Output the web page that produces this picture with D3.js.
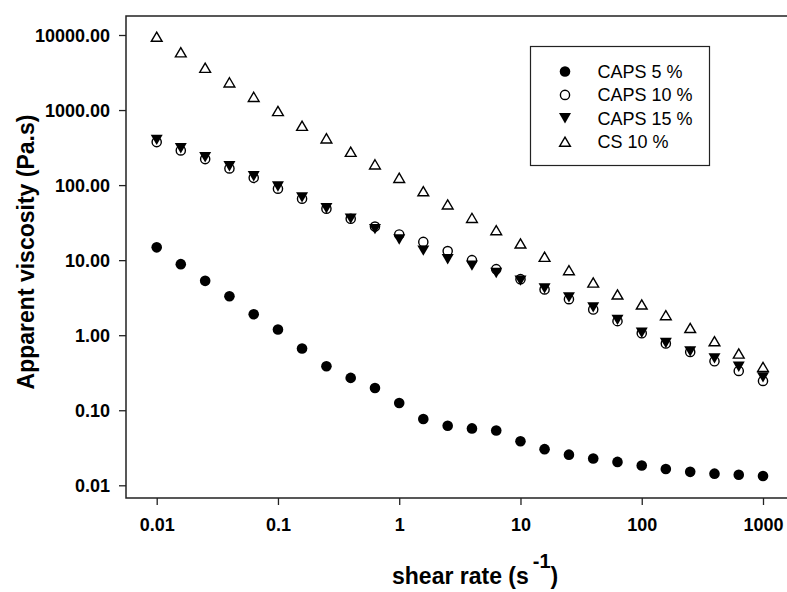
<!DOCTYPE html>
<html>
<head>
<meta charset="utf-8">
<script src="https://cdn.jsdelivr.net/npm/d3@7"></script>
<style>
	body { margin: 0; background: #fff; }
	svg { display: block; font-family: "Liberation Sans", Arial, sans-serif; }
	.tick text { font-size: 18px; font-weight: bold; fill: #000; }
	.tick line { stroke: #222; stroke-width: 1.3; }
</style>
</head>
<body>
<div id="chart"></div>
<script>
//data
var shearRate = [0.01, 0.0158, 0.0251, 0.0398, 0.0631, 0.1, 0.158, 0.251, 0.398, 0.631,
	1, 1.58, 2.51, 3.98, 6.31, 10, 15.8, 25.1, 39.8, 63.1, 100, 158, 251, 398, 631, 1000];
var caps5 = [14.8, 8.85, 5.3, 3.3, 1.9, 1.19, 0.665, 0.386, 0.27, 0.198, 0.125, 0.0766, 0.0622,
	0.0573, 0.0537, 0.0386, 0.0303, 0.0256, 0.0228, 0.0205, 0.0184, 0.0165, 0.0151, 0.0143, 0.0138, 0.0133];
var caps10 = [374, 290, 222, 167, 125, 89.5, 65.9, 48.5, 35.6, 28, 22, 17.5, 13.2,
	10, 7.59, 5.58, 4.07, 3.02, 2.2, 1.54, 1.06, 0.774, 0.598, 0.45, 0.334, 0.246];
var caps15 = [401, 310, 235, 178, 131, 95.8, 68.7, 49.1, 35.8, 25.9, 18.8, 13.4, 10.3,
	8.45, 6.75, 5.33, 4.21, 3.19, 2.35, 1.6, 1.08, 0.787, 0.608, 0.491, 0.38, 0.274];
var cs10 = [9490, 5880, 3660, 2340, 1500, 970, 618, 420, 278, 189, 125, 83, 55.3,
	36.6, 25.1, 16.7, 11.1, 7.36, 5.04, 3.49, 2.57, 1.85, 1.25, 0.832, 0.57, 0.378];
var seriesNames = ["CAPS 5 %", "CAPS 10 %", "CAPS 15 %", "CS 10 %"];
var xTicks = [0.01, 0.1, 1, 10, 100, 1000];
var yTicks = [0.01, 0.1, 1, 10, 100, 1000, 10000];

var W = 787, H = 592;
var frame = {left: 126, top: 16, right: 787, bottom: 498};

var svg = d3.select("#chart").append("svg")
	.attr("width", W)
	.attr("height", H);

var x = d3.scaleLog()
	.domain([0.01, 1000])
	.range([156.7, 763]);

var y = d3.scaleLog()
	.domain([0.01, 10000])
	.range([485.3, 35]);

//symbol paths, centred on the bounding box like the original program does
function circlePath(r) {
	return "M" + (-r) + ",0A" + r + "," + r + " 0 1,0 " + r + ",0A" + r + "," + r + " 0 1,0 " + (-r) + ",0Z";
}
var symbols = [
	{d: circlePath(5.3), fill: "#000", stroke: "none"},
	{d: circlePath(4.6), fill: "#fff", stroke: "#000"},
	{d: "M-6,-5.2L6,-5.2L0,5.2Z", fill: "#000", stroke: "none"},
	{d: "M0,-4.6L5.4,4.6L-5.4,4.6Z", fill: "#fff", stroke: "#000"}
];
var allSeries = [caps5, caps10, caps15, cs10];

// frame: top, left and bottom lines (right side runs off the page)
svg.append("path")
	.attr("d", "M" + frame.right + "," + frame.top + "H" + frame.left + "V" + frame.bottom + "H" + frame.right)
	.attr("fill", "none")
	.attr("stroke", "#222")
	.attr("stroke-width", 1.5);

var yAxis = d3.axisLeft(y)
	.tickValues(yTicks)
	.tickSize(7)
	.tickPadding(9)
	.tickFormat(d3.format(".2f"));
var gy = svg.append("g")
	.attr("transform", "translate(" + frame.left + ",0)")
	.call(yAxis);
gy.select(".domain").remove();
gy.selectAll(".tick text").attr("dy", "0.36em");

var xAxis = d3.axisBottom(x)
	.tickValues(xTicks)
	.tickSize(7)
	.tickPadding(9)
	.tickFormat(function(d) { return String(d); });
var gx = svg.append("g")
	.attr("transform", "translate(0," + frame.bottom + ")")
	.call(xAxis);
gx.select(".domain").remove();
gx.selectAll(".tick text").attr("dy", "0.95em");

// points
allSeries.forEach(function(vals, s) {
	var sym = symbols[s];
	svg.append("g")
		.selectAll("path")
		.data(vals)
		.enter().append("path")
		.attr("transform", function(d, i) { return "translate(" + x(shearRate[i]) + "," + y(d) + ")"; })
		.attr("d", sym.d)
		.attr("fill", sym.fill)
		.attr("stroke", sym.stroke)
		.attr("stroke-width", 1.4);
});

// axis titles
svg.append("text")
	.attr("transform", "translate(34,252) rotate(-90)")
	.attr("text-anchor", "middle")
	.attr("font-size", 23)
	.attr("font-weight", "bold")
	.text("Apparent viscosity (Pa.s)");

var xt = svg.append("text")
	.attr("x", 392)
	.attr("y", 584)
	.attr("font-size", 23)
	.attr("font-weight", "bold");
xt.append("tspan").text("shear rate (s");
xt.append("tspan").attr("dx", 4).attr("dy", -16).attr("font-size", 20).text("-1");
xt.append("tspan").attr("dy", 16).text(")");

// legend
var legend = svg.append("g");
legend.append("rect")
	.attr("x", 530.5)
	.attr("y", 46.5)
	.attr("width", 179)
	.attr("height", 119)
	.attr("fill", "#fff")
	.attr("stroke", "#222")
	.attr("stroke-width", 1.2);
var rows = legend.selectAll("g.row")
	.data(seriesNames)
	.enter().append("g")
	.attr("class", "row")
	.attr("transform", function(d, i) { return "translate(0," + (71.5 + i * 23.4) + ")"; });
rows.append("path")
	.attr("transform", "translate(565,0)")
	.attr("d", function(d, i) { return symbols[i].d; })
	.attr("fill", function(d, i) { return symbols[i].fill; })
	.attr("stroke", function(d, i) { return symbols[i].stroke; })
	.attr("stroke-width", 1.4);
rows.append("text")
	.attr("x", 597.5)
	.attr("dy", "0.35em")
	.attr("font-size", 18)
	.text(function(d) { return d; });
</script>
</body>
</html>
